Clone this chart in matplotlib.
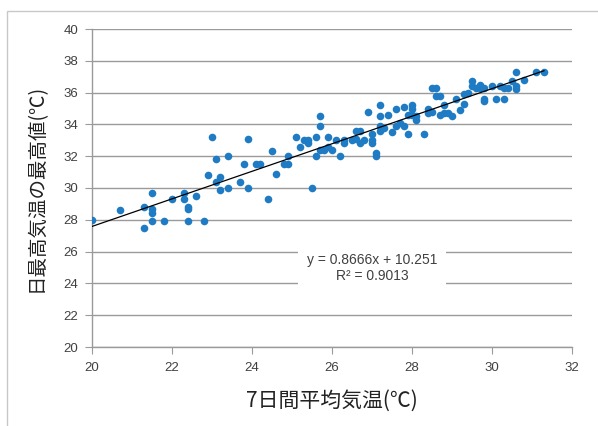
import matplotlib.pyplot as plt
from matplotlib.patches import Rectangle

plt.rcParams['font.family'] = ['Noto Sans CJK JP', 'DejaVu Sans']

# 7-day mean temperature vs daily max temperature
x = [20.0, 20.7, 21.3, 21.3, 21.5, 21.5, 21.5, 21.5, 21.8, 22.0,
     22.3, 22.3, 22.4, 22.4, 22.4, 22.6, 22.8, 22.9, 23.0, 23.1,
     23.1, 23.2, 23.2, 23.4, 23.4, 23.7, 23.8, 23.9, 23.9, 24.1,
     24.2, 24.4, 24.5, 24.6, 24.8, 24.9, 24.9, 25.1, 25.2, 25.3,
     25.4, 25.4, 25.5, 25.6, 25.6, 25.7, 25.7, 25.7, 25.8, 25.9,
     25.9, 26.0, 26.1, 26.2, 26.3, 26.3, 26.5, 26.6, 26.6, 26.7,
     26.7, 26.8, 26.9, 27.0, 27.0, 27.0, 27.1, 27.1, 27.2, 27.2,
     27.2, 27.2, 27.3, 27.4, 27.5, 27.6, 27.6, 27.7, 27.8, 27.8,
     27.9, 27.9, 28.0, 28.0, 28.0, 28.1, 28.1, 28.3, 28.4, 28.4,
     28.5, 28.5, 28.6, 28.6, 28.7, 28.7, 28.8, 28.8, 28.9, 29.0,
     29.1, 29.2, 29.3, 29.3, 29.4, 29.5, 29.5, 29.6, 29.7, 29.7,
     29.8, 29.8, 29.8, 30.0, 30.1, 30.2, 30.3, 30.3, 30.4, 30.5,
     30.6, 30.6, 30.6, 30.8, 31.1, 31.3]
y = [28.0, 28.6, 28.8, 27.5, 29.7, 28.7, 28.4, 27.9, 27.9, 29.3,
     29.7, 29.3, 28.8, 28.7, 27.9, 29.5, 27.9, 30.8, 33.2, 31.8,
     30.4, 30.7, 29.9, 32.0, 30.0, 30.4, 31.5, 33.1, 30.0, 31.5,
     31.5, 29.3, 32.3, 30.9, 31.5, 31.5, 32.0, 33.2, 32.6, 33.0,
     33.0, 32.8, 30.0, 33.2, 32.0, 34.5, 33.9, 32.4, 32.4, 33.2,
     32.6, 32.4, 33.0, 32.0, 32.8, 33.0, 33.0, 33.6, 33.1, 33.6,
     32.8, 33.0, 34.8, 33.4, 33.0, 32.8, 32.2, 32.0, 35.2, 34.5,
     33.9, 33.6, 33.8, 34.6, 33.5, 35.0, 33.9, 34.1, 35.1, 33.9,
     34.6, 33.4, 34.6, 35.2, 35.0, 34.5, 34.3, 33.4, 35.0, 34.7,
     34.8, 36.3, 36.3, 35.8, 35.8, 34.6, 35.2, 34.7, 34.7, 34.5,
     35.6, 34.9, 35.3, 35.9, 36.0, 36.7, 36.4, 36.3, 36.3, 36.5,
     36.3, 35.6, 35.5, 36.4, 35.6, 36.4, 36.3, 35.6, 36.3, 36.7,
     37.3, 36.4, 36.2, 36.8, 37.3, 37.3]

slope = 0.8666
intercept = 10.251
fit_x = [20.0, 31.3]
equation = "y = 0.8666x + 10.251\nR² = 0.9013"

fig = plt.figure(figsize=(5.98, 4.26), dpi=100)
fig.patches.append(Rectangle((7 / 598, -0.1), 1.2, 1 - 11 / 426 + 0.1,
                             transform=fig.transFigure, fill=False,
                             edgecolor="#c8c8c8", linewidth=1))
ax = fig.add_axes([92 / 598, 79 / 426, 480 / 598, 318 / 426])

ax.scatter(x, y, s=30, color="#1f7cc4", zorder=3, linewidths=0)
ax.plot(fit_x, [slope * v + intercept for v in fit_x], color="black", linewidth=0.9, zorder=4)

ax.set_xlim(20, 32)
ax.set_ylim(20, 40)
ax.set_xticks(range(20, 33, 2))
ax.set_yticks(range(20, 41, 2))
ax.yaxis.grid(True, color="#9a9a9a", linewidth=1)
ax.set_axisbelow(True)
for side in ["top", "right"]:
    ax.spines[side].set_visible(False)
for side in ["left", "bottom"]:
    ax.spines[side].set_color("#9a9a9a")
    ax.spines[side].set_linewidth(1)
ax.tick_params(length=5, color="#9a9a9a", labelsize=9.5, labelcolor="#404040")
ax.tick_params(axis="y", pad=5)
ax.tick_params(axis="x", pad=6)
for lab in ax.get_xticklabels() + ax.get_yticklabels():
    lab.set_family(["Liberation Sans", "DejaVu Sans"])

ax.text(27.0, 24.95, equation, ha="center", va="center", fontsize=10,
        color="#404040", family=["Liberation Sans", "DejaVu Sans"],
        bbox=dict(facecolor="white", edgecolor="none", pad=6), zorder=5)

ax.set_xlabel("7日間平均気温(℃)", fontsize=15, labelpad=11, color="#222222")
ax.set_ylabel("日最高気温の最高値(℃)", fontsize=14, labelpad=12, color="#222222")

fig.savefig("out.png", dpi=100)
